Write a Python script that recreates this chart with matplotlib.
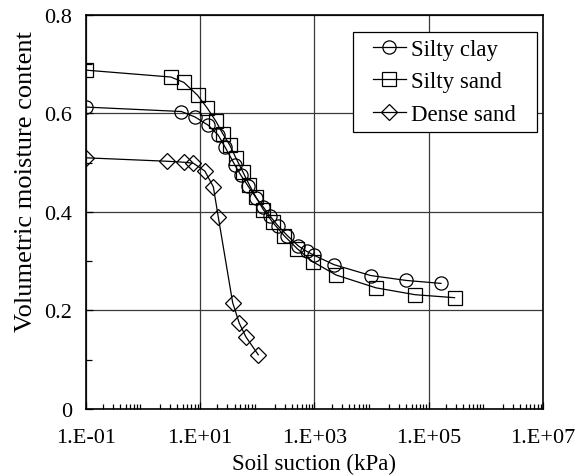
import matplotlib
matplotlib.use("Agg")
from matplotlib import pyplot as plt
from matplotlib.ticker import FixedLocator, LogLocator, NullFormatter
from matplotlib.legend_handler import HandlerLine2D

# Silty clay (circles)
clay_suction = [0.1, 4.7, 8.1, 13.9, 20.7, 27.2, 40.6, 51.2, 69.5, 94.8, 127, 166,
                233, 335, 522, 733, 984, 2200, 9600, 40200, 163000]
clay_theta = [0.613, 0.604, 0.593, 0.576, 0.556, 0.532, 0.495, 0.475, 0.452, 0.429,
              0.410, 0.392, 0.371, 0.352, 0.331, 0.320, 0.312, 0.293, 0.271, 0.261, 0.255]

# Silty sand (squares)
sand_suction = [0.1, 3.08, 5.2, 9.0, 13.3, 18.9, 24.8, 33.3, 42.4, 55.5, 72.4, 94.8,
                127, 186, 294, 503, 933, 2390, 11900, 57800, 282000]
sand_theta = [0.688, 0.674, 0.663, 0.637, 0.611, 0.584, 0.559, 0.535, 0.509, 0.482,
              0.455, 0.430, 0.405, 0.379, 0.352, 0.325, 0.299, 0.272, 0.246, 0.232, 0.226]

# Dense sand (diamonds)
dense_suction = [0.1, 2.65, 5.2, 7.6, 12.1, 17.0, 20.8, 37.0, 48.4, 63.4, 104]
dense_theta = [0.510, 0.503, 0.501, 0.499, 0.483, 0.451, 0.389, 0.216, 0.174, 0.146, 0.110]

xtick_vals = [1e-1, 1e1, 1e3, 1e5, 1e7]
xtick_labels = ["1.E-01", "1.E+01", "1.E+03", "1.E+05", "1.E+07"]
ytick_vals = [0, 0.2, 0.4, 0.6, 0.8]
ytick_labels = ["0", "0.2", "0.4", "0.6", "0.8"]

plt.rcParams['font.family'] = ['Liberation Serif', 'DejaVu Serif']

fig = plt.figure(figsize=(5.76, 4.77), dpi=100)
ax = fig.add_axes([0.149, 0.1405, 0.794, 0.826])

style = dict(color="black", lw=0.9, markerfacecolor="none", markeredgecolor="black",
             markeredgewidth=0.9, ms=9.5)
ax.plot(clay_suction, clay_theta, marker="o", label="Silty clay", **style)
ax.plot(sand_suction, sand_theta, marker="s", label="Silty sand", **style)
ax.plot(dense_suction, dense_theta, marker="D", label="Dense sand", **dict(style, ms=8.5))

ax.set_xscale("log")
ax.set_xlim(1e-1, 1e7)
ax.set_ylim(0, 0.8)

ax.xaxis.set_major_locator(FixedLocator(xtick_vals))
ax.set_xticklabels(xtick_labels)
ax.xaxis.set_minor_locator(LogLocator(base=10, subs=range(2, 10), numticks=20))
ax.xaxis.set_minor_formatter(NullFormatter())
ax.set_yticks(ytick_vals)
ax.set_yticklabels(ytick_labels)
ax.set_yticks([0.1, 0.3, 0.5, 0.7], minor=True)

ax.tick_params(which="both", direction="in", labelsize=16, top=False, right=False,
               width=0.9, color="black")
ax.tick_params(which="major", length=5)
ax.tick_params(axis="x", which="major", pad=14)
ax.tick_params(axis="y", which="major", pad=10)
ax.tick_params(axis="x", which="minor", length=3.5)
ax.tick_params(axis="y", which="minor", length=4.5)

ax.grid(True, which="major", color="#3a3a3a", lw=0.9)
ax.set_axisbelow(True)
for s in ax.spines.values():
    s.set_linewidth(1.2)
    s.set_color("black")

ax.set_xlabel("Soil suction (kPa)", fontsize=16.5, labelpad=4)
ax.set_ylabel("Volumetric moisture content", fontsize=19)
ax.yaxis.set_label_coords(-0.106, 0.579)

# legend box: wide, with extra room left of the handles
hmap = {h: HandlerLine2D(xpad=0.57) for h in ax.get_lines()}
leg = ax.legend(loc="upper left", bbox_to_anchor=(0.584, 0.703, 0.403, 0.254),
                mode="expand", fontsize=16.5, handler_map=hmap,
                frameon=True, fancybox=False, edgecolor="black", framealpha=1,
                handlelength=2.0, handletextpad=0.25, labelspacing=0.5,
                borderpad=0.3, borderaxespad=0)
leg.get_frame().set_linewidth(0.9)

fig.savefig("out.png", dpi=100)
